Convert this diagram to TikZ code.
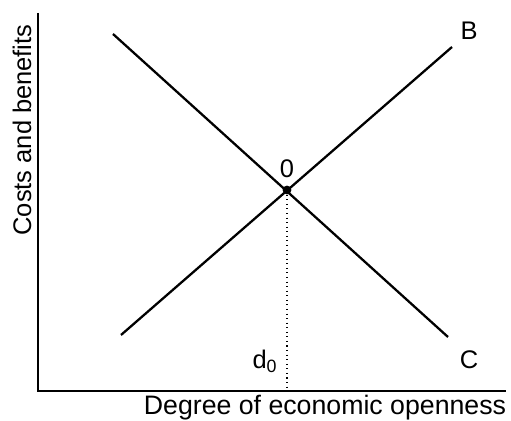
\documentclass[tikz,border=0pt]{standalone}
\usepackage{fontspec}
\setmainfont{Liberation Sans}
\usetikzlibrary{positioning}

\begin{document}
\begin{tikzpicture}[
    x=0.02cm, y=-0.02cm,
    axis/.style={line width=1.7pt},
    curve/.style={line width=1.3pt},
    lbl/.style={font=\fontsize{14.5}{16}\selectfont, inner sep=0pt},
    eqpt/.style={circle, fill, inner sep=0pt, minimum size=5pt}
]
\useasboundingbox (0,0) rectangle (511,421);

% Axes
\coordinate (origin) at (38,391);
\coordinate (ytop) at (38,13);
\coordinate (xend) at (506,391);
\draw[axis] (ytop) -- (origin) -- (xend);

% Curves B and C
\coordinate (bstart) at (121,335);
\coordinate (bend) at (452,47);
\coordinate (cstart) at (113,34);
\coordinate (cend) at (448,337);
\draw[curve] (bstart) -- (bend);
\draw[curve] (cstart) -- (cend);

% Equilibrium point
\node[eqpt] (eq) at (287,190) {};
\coordinate (d0foot) at (287,391);
\draw[dotted, line width=0.6pt] (eq) -- (d0foot);

% Labels
\node[lbl] (blbl) at (469,31) {B};
\node[lbl] (clbl) at (469,360) {C};
\node[lbl, above=4pt of eq] (zero) {0};
\node[lbl] (d0lbl) at (265,361) {d\textsubscript{0}};
\node[lbl, rotate=90] (ylbl) at (22,130) {Costs and benefits};
\node[lbl, font=\fontsize{15.2}{17}\selectfont] (xlbl) at (325,408) {Degree of economic openness};

\end{tikzpicture}
\end{document}
